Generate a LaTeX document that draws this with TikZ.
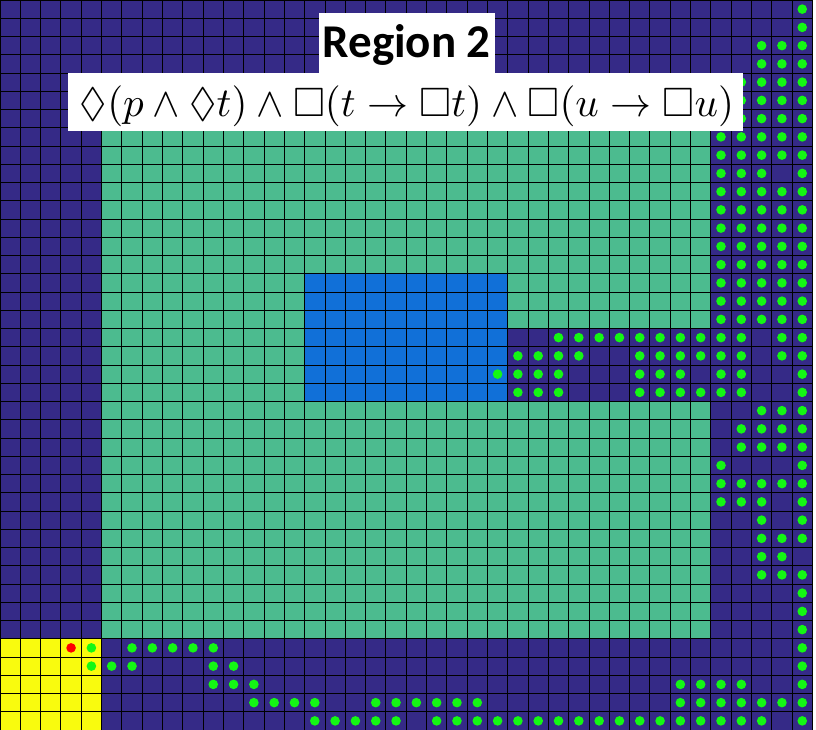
\documentclass[tikz,border=0pt]{standalone}
\usepackage{amssymb}
\usepackage{graphicx}
\usepackage{fontspec}
\newfontfamily\titlefont{Carlito}
\definecolor{navy}{HTML}{352A87}
\definecolor{tealc}{HTML}{4CBB8F}
\definecolor{bluec}{HTML}{1170D8}
\definecolor{yell}{HTML}{F9FB0E}
\definecolor{dotg}{HTML}{14F714}
\begin{document}
\begin{tikzpicture}[x={(20.31pt,0pt)},y={(0pt,-18.25pt)},
  gridline/.style={black,line width=0.9pt},
  gdot/.style={fill=dotg},
  rdot/.style={fill=red},
  labelbox/.style={fill=white,inner sep=0pt}]
\useasboundingbox (0pt,0pt) rectangle (816pt,-730pt);
\fill[white] (0pt,0pt) rectangle (816pt,-730pt);
% regions
\fill[navy] (0,0) rectangle (40,40);
\fill[tealc] (5,7) rectangle (35,35);
\fill[bluec] (15,15) rectangle (25,22);
\fill[navy] (25,18) rectangle (35,22);
\fill[yell] (0,35) rectangle (5,40);
% grid
\foreach \i in {0,...,40} {
  \draw[gridline] (\i,0) -- (\i,40);
  \draw[gridline] (0,\i) -- (40,\i);
}
% green dots
\foreach \r/\cols in {
  0/{39}, 1/{39}, 2/{37,38,39}, 3/{37,38,39},
  4/{35,36,37,38,39}, 5/{35,36,37,38,39}, 6/{35,36,37,38,39},
  7/{35,...,39}, 8/{35,...,39}, 9/{35,36,37,39},
  10/{35,...,39}, 11/{35,...,39}, 12/{35,...,39}, 13/{35,...,39},
  14/{35,...,39}, 15/{35,...,39}, 16/{35,...,39}, 17/{35,...,39},
  18/{27,...,36,38,39},
  19/{25,26,27,28,31,32,33,34,35,36,38,39},
  20/{24,25,26,27,31,32,33,35,36,39},
  21/{25,26,27,31,32,33,34,35,36,39},
  22/{37,38,39}, 23/{36,37,38,39}, 24/{36,37,38,39},
  25/{35,39}, 26/{35,...,39}, 27/{35,36,37,39},
  28/{37,39}, 29/{37,38,39}, 30/{37,38}, 31/{37,38,39},
  32/{39}, 33/{39}, 34/{39},
  35/{4,6,7,8,9,10,39},
  36/{4,5,6,10,11,39},
  37/{10,11,12,33,34,35,36,39},
  38/{12,13,14,15,18,19,20,21,22,23,33,34,35,36,37,38,39},
  39/{15,16,17,18,19,21,22,23,24,25,26,27,28,29,30,31,32,33,34,35,36,37,39}} {
  \foreach \c in \cols {
    \fill[gdot] (\c+0.5,\r+0.5) circle[radius=4.8pt];
  }
}
\fill[rdot] (3.5,35.5) circle[radius=4.8pt];
% label boxes
\node[labelbox,minimum width=176pt,minimum height=60.3pt] (titlebox) at (407pt,-42.85pt) {};
\node[labelbox,minimum width=675pt,minimum height=58pt] (formulabox) at (405.5pt,-102pt) {};
\node[anchor=base,inner sep=0pt] (title) at (406.7pt,-57.3pt)
  {\titlefont\bfseries\fontsize{47}{50}\selectfont Region 2};
\node[anchor=base,inner sep=0pt] (formula) at (407pt,-116.5pt)
  {\scalebox{4.1}{$\Diamond(p\wedge\Diamond t)\wedge\Box(t\to\Box t)\wedge\Box(u\to\Box u)$}};
\end{tikzpicture}
\end{document}
